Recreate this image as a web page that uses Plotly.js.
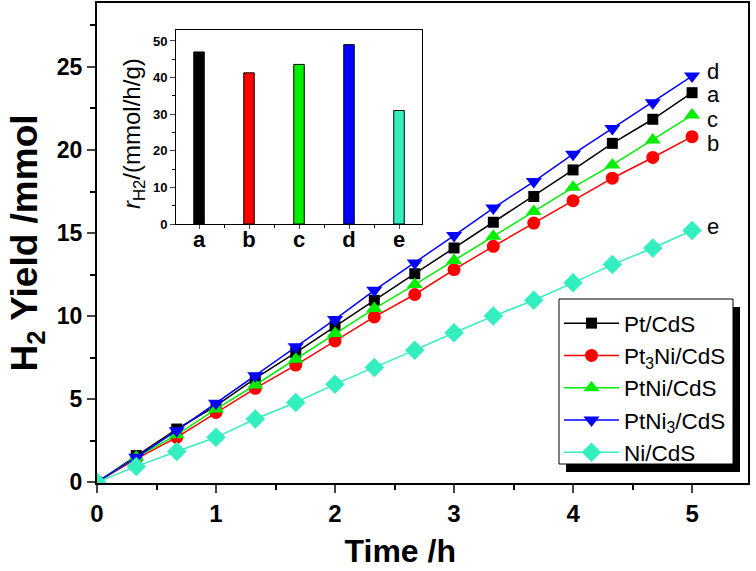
<!DOCTYPE html>
<html>
<head>
<meta charset="utf-8">
<script src="https://cdn.plot.ly/plotly-3.0.1.min.js"></script>
<style>html,body{margin:0;padding:0;background:#fff;}#chart{width:756px;height:571px;}</style>
</head>
<body>
<div id="chart"></div>
<script>
// ---- data ----
var timeH = [0, 0.33, 0.67, 1, 1.33, 1.67, 2, 2.33, 2.67, 3, 3.33, 3.67, 4, 4.33, 4.67, 5];
var seriesNames = ['Pt/CdS', 'Pt<sub>3</sub>Ni/CdS', 'PtNi/CdS', 'PtNi<sub>3</sub>/CdS', 'Ni/CdS'];
var seriesTags = ['a', 'b', 'c', 'd', 'e'];
var yieldA = [0, 1.6, 3.2, 4.6, 6.25, 7.8, 9.4, 10.95, 12.55, 14.1, 15.65, 17.2, 18.8, 20.4, 21.85, 23.45];
var yieldB = [0, 1.4, 2.7, 4.2, 5.65, 7.05, 8.5, 9.95, 11.3, 12.8, 14.2, 15.6, 16.95, 18.3, 19.55, 20.8];
var yieldC = [0, 1.5, 2.85, 4.4, 5.85, 7.4, 8.95, 10.45, 11.9, 13.35, 14.8, 16.3, 17.75, 19.1, 20.6, 22.1];
var yieldD = [0, 1.5, 3.1, 4.75, 6.4, 8.15, 9.8, 11.55, 13.2, 14.85, 16.5, 18.1, 19.75, 21.3, 22.85, 24.45];
var yieldE = [0, 0.95, 1.85, 2.7, 3.8, 4.8, 5.9, 6.9, 7.95, 9.0, 10.0, 10.95, 12.0, 13.1, 14.1, 15.15];
var rateCategories = ['a', 'b', 'c', 'd', 'e'];
var rateValues = [47, 41.3, 43.6, 49, 31];
var xTickVals = [0, 1, 2, 3, 4, 5];
var yTickVals = [0, 5, 10, 15, 20, 25];

// ---- styles ----
var colors = ['#000000', '#ff0000', '#00ee00', '#0000ff', '#33efc0'];
var symbols = ['square', 'circle', 'triangle-up', 'triangle-down', 'diamond'];
var msizes = [11, 13, 14, 14, 15];
var tagShift = [-2, -7, -4, 5, 4];
var allYields = [yieldA, yieldB, yieldC, yieldD, yieldE];
var FONT = 'Liberation Sans, Arial, sans-serif';

var traces = [];
for (var i = 0; i < 5; i++) {
  traces.push({
    type: 'scatter', mode: 'lines+markers',
    x: timeH, y: allYields[i], name: seriesNames[i],
    line: {color: colors[i], width: 1.5},
    marker: {symbol: symbols[i], size: msizes[i], color: colors[i]},
    xaxis: 'x', yaxis: 'y'
  });
}
traces.push({
  type: 'bar', x: [0, 1, 2, 3, 4], y: rateValues, width: 0.21,
  marker: {color: colors, line: {color: '#000', width: 1}},
  xaxis: 'x2', yaxis: 'y2', showlegend: false
});

var annotations = [];
for (var j = 0; j < 5; j++) {
  var ys = allYields[j];
  annotations.push({
    x: timeH[timeH.length - 1], y: ys[ys.length - 1], xref: 'x', yref: 'y',
    text: seriesTags[j], showarrow: false, xanchor: 'left', xshift: 13, yshift: tagShift[j],
    font: {family: FONT, size: 22, color: '#000'}
  });
}

var layout = {
  width: 756, height: 571,
  margin: {l: 97, r: 8, t: 3, b: 88},
  paper_bgcolor: '#fff', plot_bgcolor: '#fff',
  font: {family: FONT, color: '#000'},
  showlegend: true,
  legend: {
    x: (559 - 97) / 651, y: (483 - 302) / 480, xanchor: 'left', yanchor: 'top',
    bgcolor: 'rgba(0,0,0,0)', borderwidth: 0,
    font: {family: FONT, size: 22.5, color: '#000'},
    itemwidth: 55, tracegroupgap: 0
  },
  xaxis: {
    range: [0, 5.47], tickvals: xTickVals, ticks: 'outside', ticklen: 8, tickwidth: 2,
    showline: true, linewidth: 2, linecolor: '#000', mirror: true, showgrid: false, zeroline: false,
    tickfont: {family: FONT, size: 24, color: '#000', weight: 'bold'},
    minor: {dtick: 0.5, tick0: 0, ticks: 'outside', ticklen: 5, tickwidth: 2, tickcolor: '#000'},
    title: {text: 'Time /h&nbsp;&nbsp;&nbsp;&nbsp;&nbsp;', font: {family: FONT, size: 32, weight: 'bold', color: '#000'}, standoff: 14}
  },
  yaxis: {
    range: [-0.05, 28.85], tickvals: yTickVals, ticks: 'outside', ticklen: 8, tickwidth: 2,
    showline: true, linewidth: 2, linecolor: '#000', mirror: true, showgrid: false, zeroline: false,
    tickfont: {family: FONT, size: 23, color: '#000', weight: 'bold'},
    minor: {dtick: 2.5, tick0: 0, ticks: 'outside', ticklen: 5, tickwidth: 2, tickcolor: '#000'},
    title: {text: 'H<sub>2</sub> Yield /mmol', font: {family: FONT, size: 37, weight: 'bold', color: '#000'}, standoff: 8}
  },
  xaxis2: {
    domain: [(176 - 97) / 651, (422 - 97) / 651], anchor: 'y2',
    range: [-0.46, 4.46], tickvals: [0, 1, 2, 3, 4], ticktext: rateCategories,
    ticks: 'outside', ticklen: 4, tickwidth: 1, showline: true, linewidth: 1, linecolor: '#000', mirror: true,
    showgrid: false, zeroline: false, ticklabelstandoff: -8,
    tickfont: {family: FONT, size: 22, color: '#000', weight: 'bold'},
    minor: {dtick: 0.5, tick0: 0.5, ticks: 'outside', ticklen: 3, tickwidth: 1, tickcolor: '#000'}
  },
  yaxis2: {
    domain: [(483 - 224) / 480, (483 - 30) / 480], anchor: 'x2',
    range: [0, 53], dtick: 10, ticks: 'outside', ticklen: 5, tickwidth: 1,
    showline: true, linewidth: 1, linecolor: '#000', mirror: true, showgrid: false, zeroline: false,
    tickfont: {family: FONT, size: 13, color: '#000', weight: 'bold'},
    minor: {dtick: 5, ticks: 'outside', ticklen: 3, tickwidth: 1, tickcolor: '#000'},
    title: {text: '<i>r</i><sub>H2</sub>/(mmol/h/g)&nbsp;&nbsp;', font: {family: FONT, size: 24, color: '#000'}, standoff: 5}
  },
  annotations: annotations
};

Plotly.newPlot('chart', traces, layout, {displayModeBar: false, staticPlot: true}).then(function (gd) {
  // legend frame + drop shadow, placed around the drawn legend entries
  var bg = gd.querySelector('.legend .bg');
  if (!bg) return;
  var r = bg.getBoundingClientRect();
  var c = gd.getBoundingClientRect();
  var L = 97, T = 3, W = 651, H = 480;
  var bx0 = r.left - c.left, bx1 = Math.max(r.right - c.left, bx0 + 174);
  var by0 = r.top - c.top - 3, by1 = by0 + 165;
  function px2x(p) { return (p - L) / W; }
  function px2y(p) { return (T + H - p) / H; }
  Plotly.relayout(gd, {shapes: [
    {type: 'rect', xref: 'paper', yref: 'paper', layer: 'above',
     x0: px2x(bx0 + 7), x1: px2x(bx1 + 7), y0: px2y(by1 + 8), y1: px2y(by0 + 8),
     fillcolor: '#000', line: {width: 0}},
    {type: 'rect', xref: 'paper', yref: 'paper', layer: 'above',
     x0: px2x(bx0), x1: px2x(bx1), y0: px2y(by1), y1: px2y(by0),
     fillcolor: '#fff', line: {color: '#000', width: 1}}
  ]});
});
</script>
</body>
</html>
